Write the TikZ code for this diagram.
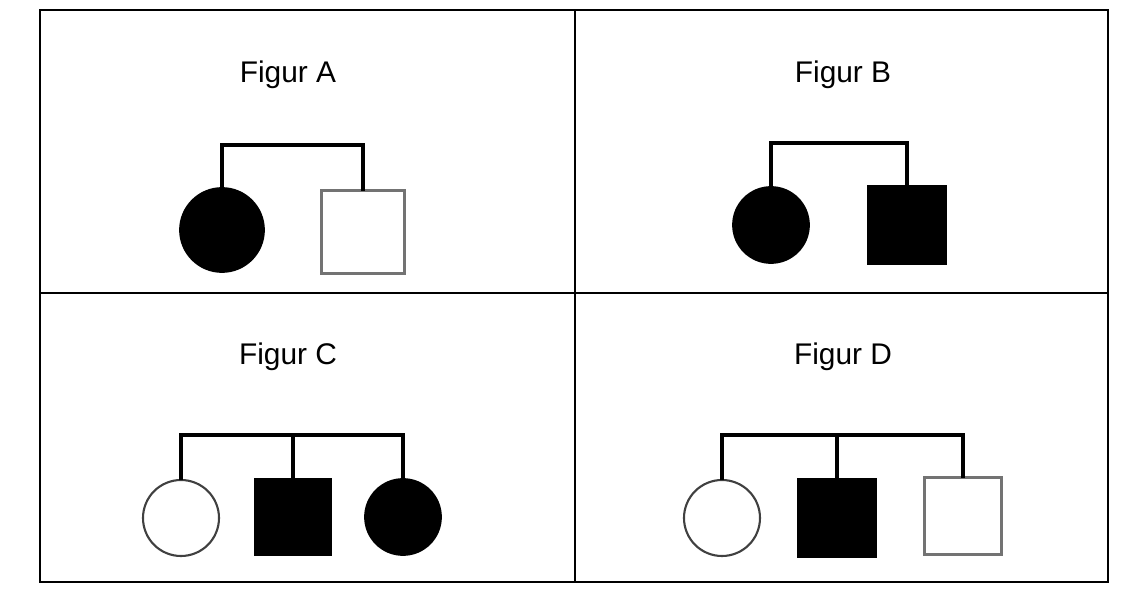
\documentclass[tikz,border=0pt]{standalone}
\usepackage{fontspec}
\setmainfont{Liberation Sans}
\begin{document}
\begin{tikzpicture}[x=0.02cm,y=-0.02cm,
  tbl/.style={line width=1.2pt,black},
  lnk/.style={line width=2.4pt,black},
  ttl/.style={font=\fontsize{17}{20}\selectfont},
  fc/.style={circle,fill=black,draw=black,line width=1pt,inner sep=0,outer sep=0,minimum size=#1*0.02cm},
  oc/.style={circle,draw=black!75,line width=1.2pt,inner sep=0,outer sep=0,minimum size=#1*0.02cm},
  fs/.style={rectangle,fill=black,draw=black,line width=1pt,inner sep=0,outer sep=0,minimum size=#1*0.02cm},
  os/.style={rectangle,draw=black!55,line width=1.6pt,inner sep=0,outer sep=0,minimum size=#1*0.02cm}]
\useasboundingbox (0,0) rectangle (1134,612);
\draw[tbl] (40,10) rectangle (1108,582);
\draw[tbl] (575,10) -- (575,582);
\draw[tbl] (40,293) -- (1108,293);
\node[ttl] (tA) at (288,75) {Figur A};
\node[ttl] (tB) at (843,75) {Figur B};
\node[ttl] (tC) at (288,357) {Figur C};
\node[ttl] (tD) at (843,357) {Figur D};
% A
\node[fc=84] (a1) at (222,230) {};
\node[os=83] (a2) at (363,232) {};
\draw[lnk] (a1.north) -- (a1.north |- 0,145) -| (a2.north);
% B
\node[fc=76] (b1) at (771,225) {};
\node[fs=78] (b2) at (907,225) {};
\draw[lnk] (b1.north) -- (b1.north |- 0,143) -| (b2.north);
% C
\node[oc=76] (c1) at (181,518) {};
\node[fs=76] (c2) at (293,517) {};
\node[fc=76] (c3) at (403,517) {};
\coordinate (cm) at (293,435);
\draw[lnk] (c1.north) -- (c1.north |- cm) -| (c3.north);
\draw[lnk] (cm) -- (c2.north);
% D
\node[oc=76] (d1) at (722,518) {};
\node[fs=78] (d2) at (837,518) {};
\node[os=77] (d3) at (963,516) {};
\coordinate (dm) at (837,435);
\draw[lnk] (d1.north) -- (d1.north |- dm) -| (d3.north);
\draw[lnk] (dm) -- (d2.north);
\end{tikzpicture}
\end{document}
